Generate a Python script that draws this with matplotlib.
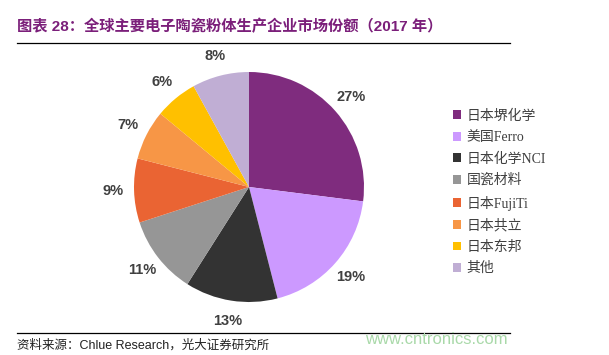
import matplotlib.pyplot as plt
from matplotlib.patches import Patch
from matplotlib.lines import Line2D

# data
companies = ['日本堺化学', '美国Ferro', '日本化学NCI', '国瓷材料', '日本FujiTi', '日本共立', '日本东邦', '其他']
shares = [27, 19, 13, 11, 9, 7, 6, 8]
colors = ['#7F2C7E', '#CC99FF', '#333333', '#969696', '#EA6433', '#F79646', '#FFC000', '#C0AED4']

title = '图表 28：全球主要电子陶瓷粉体生产企业市场份额（2017 年）'
source = '资料来源：Chlue Research，光大证券研究所'

W, H = 609, 355
fig = plt.figure(figsize=(W / 100, H / 100), dpi=100)

# title + rules
fig.text(17 / W, 1 - 27 / H, title, color='#7B1F7A', fontsize=11, fontweight='bold',
         family=['Liberation Sans', 'Noto Sans CJK SC'], va='center', ha='left')
fig.add_artist(Line2D([17 / W, 510 / W], [1 - 42.5 / H] * 2, color='black', lw=0.9))
fig.add_artist(Line2D([17 / W, 510 / W], [1 - 333 / H] * 2, color='black', lw=0.9))
fig.text(17 / W, 1 - 345 / H, source, color='#222222', fontsize=9,
         family=['Liberation Sans', 'Noto Sans CJK SC'], va='center', ha='left')
fig.text(365 / W, 1 - 340 / H, 'www.cntronics.com', color='#A9D9A9', fontsize=12,
         family='Liberation Sans', va='center', ha='left')

# pie, centre (249,187) px, radius 115 px
cx, cy, r = 249, 187, 115
ax = fig.add_axes([(cx - r) / W, 1 - (cy + r) / H, 2 * r / W, 2 * r / H])
wedges, texts = ax.pie(shares, colors=colors, startangle=90, counterclock=False,
                       labels=[f'{s}%' for s in shares], labeldistance=1.18,
                       wedgeprops=dict(linewidth=0))
for t in texts:
    t.set_fontsize(10.5)
    t.set_fontweight('bold')
    t.set_color('#404040')
    t.set_family('Liberation Sans')
    t.set_ha('center')
    t.set_va('center')
ax.set_xlim(-1, 1)
ax.set_ylim(-1, 1)
ax.axis('off')

# legend
handles = [Patch(facecolor=c, edgecolor='none') for c in colors]
leg = fig.legend(handles, companies, loc='upper left', bbox_to_anchor=(440 / W, 1 - 97 / H),
                 frameon=False, handlelength=0.6, handleheight=0.6,
                 handletextpad=0.4, labelspacing=0.6,
                 prop={'family': ['Liberation Serif', 'Noto Sans CJK SC'], 'size': 10})
for t in leg.get_texts():
    t.set_color('#404040')

fig.savefig('out.png', dpi=100)
